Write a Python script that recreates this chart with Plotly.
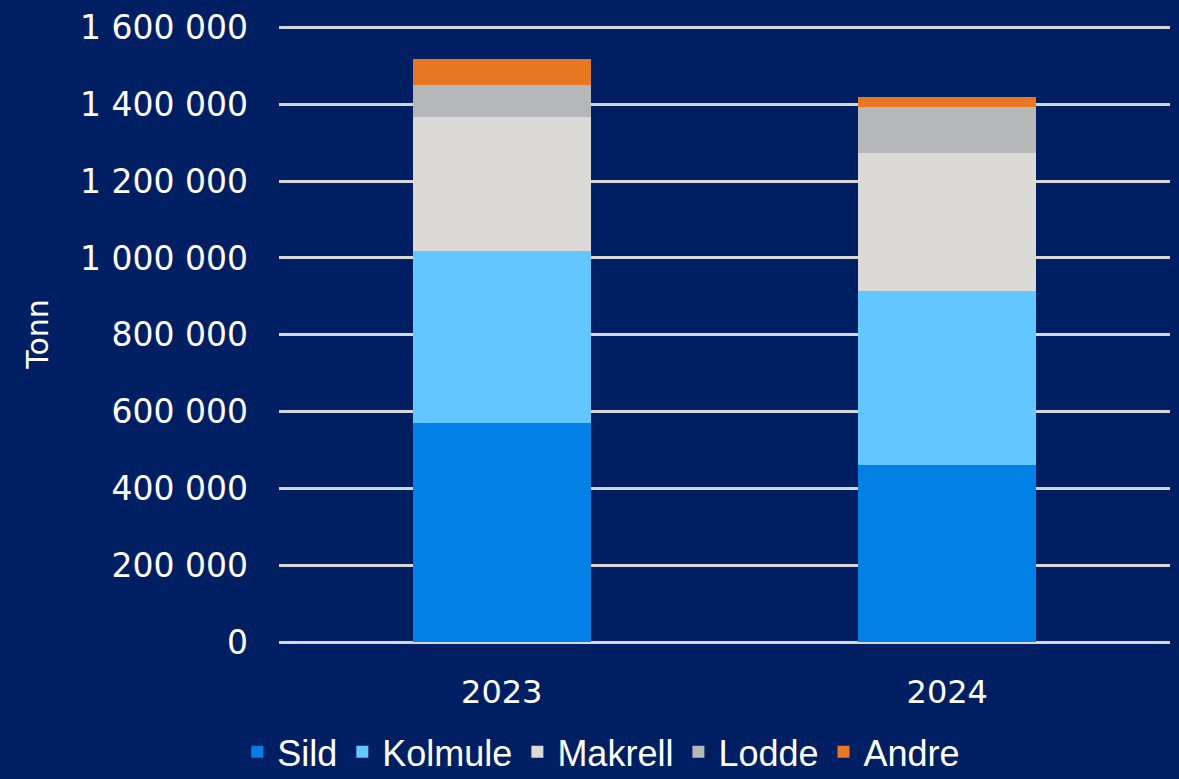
import plotly.graph_objects as go

years = ["2023", "2024"]
sild = [570000, 461000]
kolmule = [448000, 453000]
makrell = [349000, 359000]
lodde = [83000, 120000]
andre = [68000, 26000]

series = [
    ("Sild", sild, "#0280E5"),
    ("Kolmule", kolmule, "#62C6FF"),
    ("Makrell", makrell, "#DBDAD6"),
    ("Lodde", lodde, "#B6B7B9"),
    ("Andre", andre, "#E87722"),
]

bg = "#001F63"
fig = go.Figure()
for name, vals, col in series:
    fig.add_trace(go.Bar(x=years, y=vals, name=name, marker_color=col,
                         marker_line_width=0))

fig.update_layout(
    barmode="stack",
    bargap=0.6,
    width=1179, height=779,
    paper_bgcolor=bg, plot_bgcolor=bg,
    separators=", ",
    font=dict(family="DejaVu Sans", color="white", size=30),
    margin=dict(l=279, r=9, t=26, b=137),
    legend=dict(orientation="h", xref="container", yref="container",
                x=0.51, xanchor="center", y=0.035, yanchor="middle",
                font=dict(family="Liberation Sans", size=36),
                itemwidth=30, traceorder="normal"),
    showlegend=True,
)
fig.update_yaxes(range=[0, 1604000], tickvals=[0, 200000, 400000, 600000, 800000,
                 1000000, 1200000, 1400000, 1600000], tickformat=",d",
                 gridcolor="#D6D6D6", gridwidth=2.5, zeroline=True,
                 zerolinecolor="#D6D6D6", zerolinewidth=2.5,
                 showline=False, ticklabelstandoff=30,
                 tickfont=dict(size=33),
                 title=dict(text="Tonn", font=dict(size=30), standoff=22))
fig.update_xaxes(showgrid=False, showline=False, ticklabelstandoff=28,
                 tickfont=dict(size=32))

fig.write_html("out.html", config={"displayModeBar": False},
               post_script="document.body.style.margin='0';document.body.style.padding='0';")
